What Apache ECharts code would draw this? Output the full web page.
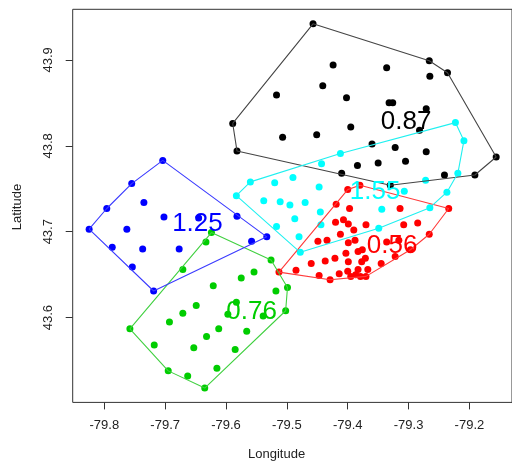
<!DOCTYPE html>
<html>
<head>
<meta charset="utf-8">
<script src="https://cdn.jsdelivr.net/npm/echarts@6/dist/echarts.min.js"></script>
<style>html,body{margin:0;padding:0;background:#fff;}#c{width:512px;height:463px;}</style>
</head>
<body>
<div id="c"></div>
<script>
// Cluster points [longitude, latitude]
const blackPts = [[-79.457,43.942],[-79.424,43.894],[-79.336,43.891],[-79.266,43.899],[-79.236,43.885],[-79.265,43.881],[-79.441,43.870],[-79.517,43.859],[-79.402,43.856],[-79.332,43.850],[-79.326,43.850],[-79.271,43.843],[-79.589,43.826],[-79.395,43.822],[-79.282,43.818],[-79.507,43.810],[-79.451,43.813],[-79.582,43.794],[-79.360,43.802],[-79.322,43.798],[-79.271,43.793],[-79.156,43.787],[-79.384,43.777],[-79.350,43.780],[-79.305,43.782],[-79.410,43.768],[-79.241,43.766],[-79.191,43.766],[-79.330,43.754]];
const bluePts = [[-79.704,43.783],[-79.755,43.756],[-79.735,43.734],[-79.796,43.727],[-79.702,43.717],[-79.645,43.716],[-79.582,43.718],[-79.825,43.703],[-79.763,43.703],[-79.787,43.682],[-79.737,43.680],[-79.677,43.680],[-79.558,43.689],[-79.533,43.694],[-79.754,43.659],[-79.719,43.631]];
const greenPts = [[-79.624,43.699],[-79.633,43.688],[-79.671,43.656],[-79.526,43.667],[-79.554,43.653],[-79.575,43.646],[-79.621,43.637],[-79.499,43.635],[-79.518,43.631],[-79.649,43.614],[-79.671,43.605],[-79.693,43.595],[-79.583,43.618],[-79.597,43.604],[-79.539,43.602],[-79.502,43.608],[-79.758,43.587],[-79.612,43.587],[-79.632,43.578],[-79.566,43.584],[-79.718,43.568],[-79.653,43.565],[-79.585,43.563],[-79.695,43.538],[-79.663,43.532],[-79.615,43.541],[-79.635,43.518]];
const cyanPts = [[-79.412,43.791],[-79.443,43.779],[-79.560,43.758],[-79.520,43.757],[-79.490,43.763],[-79.583,43.742],[-79.447,43.752],[-79.538,43.736],[-79.511,43.735],[-79.495,43.731],[-79.470,43.734],[-79.445,43.723],[-79.487,43.715],[-79.517,43.706],[-79.444,43.708],[-79.480,43.694],[-79.478,43.676],[-79.307,43.747],[-79.344,43.726],[-79.272,43.760],[-79.237,43.746],[-79.265,43.728],[-79.223,43.827],[-79.209,43.806],[-79.219,43.768],[-79.349,43.704]];
const redPts = [[-79.380,43.754],[-79.400,43.749],[-79.419,43.732],[-79.397,43.727],[-79.314,43.727],[-79.234,43.727],[-79.420,43.711],[-79.407,43.714],[-79.399,43.709],[-79.390,43.702],[-79.370,43.708],[-79.308,43.708],[-79.285,43.710],[-79.266,43.697],[-79.412,43.697],[-79.449,43.689],[-79.434,43.690],[-79.399,43.687],[-79.388,43.690],[-79.336,43.688],[-79.316,43.690],[-79.297,43.679],[-79.403,43.675],[-79.383,43.677],[-79.376,43.679],[-79.371,43.669],[-79.322,43.671],[-79.345,43.663],[-79.460,43.663],[-79.437,43.666],[-79.421,43.669],[-79.399,43.665],[-79.377,43.665],[-79.513,43.653],[-79.485,43.655],[-79.447,43.649],[-79.429,43.644],[-79.414,43.651],[-79.400,43.654],[-79.395,43.648],[-79.383,43.656],[-79.379,43.648],[-79.387,43.650],[-79.367,43.656],[-79.370,43.648]];

// Cluster annotations [longitude, latitude, text]
const clusterLabels = [
  [-79.304, 43.828, '0.87'],
  [-79.647, 43.709, '1.25'],
  [-79.355, 43.746, '1.55'],
  [-79.327, 43.683, '0.56'],
  [-79.558, 43.607, '0.76']
];
const xTicks = [-79.8, -79.7, -79.6, -79.5, -79.4, -79.3, -79.2];
const yTicks = [43.6, 43.7, 43.8, 43.9];

const clusters = [
  {pts: blackPts, color: '#000000', line: '#444444'},
  {pts: redPts, color: '#FF0000', line: '#FF3a3a'},
  {pts: greenPts, color: '#00CD00', line: '#40D040'},
  {pts: bluePts, color: '#0000FF', line: '#3a3aFF'},
  {pts: cyanPts, color: '#00FFFF', line: '#20F0F0'}
];
const labelColors = ['#000000', '#0000FF', '#00FFFF', '#FF0000', '#00CD00'];

function hull(points) {
  const p = points.slice().sort((a, b) => a[0] - b[0] || a[1] - b[1]);
  const cross = (o, a, b) => (a[0]-o[0])*(b[1]-o[1]) - (a[1]-o[1])*(b[0]-o[0]);
  const lower = [];
  for (const q of p) { while (lower.length >= 2 && cross(lower[lower.length-2], lower[lower.length-1], q) <= 0) lower.pop(); lower.push(q); }
  const upper = [];
  for (let i = p.length - 1; i >= 0; i--) { const q = p[i]; while (upper.length >= 2 && cross(upper[upper.length-2], upper[upper.length-1], q) <= 0) upper.pop(); upper.push(q); }
  upper.pop(); lower.pop();
  const h = lower.concat(upper);
  h.push(h[0]);
  return h;
}

const FONT = '"Liberation Sans", Arial, Helvetica, sans-serif';
const series = [];
clusters.forEach(c => {
  series.push({type: 'scatter', data: c.pts, symbolSize: 7, itemStyle: {color: c.color, opacity: 1}, silent: true, z: 3});
});
clusters.forEach(c => {
  series.push({type: 'line', data: hull(c.pts), symbol: 'none', lineStyle: {color: c.line, width: 1.1}, silent: true, z: 4});
});
clusterLabels.forEach((l, i) => {
  series.push({type: 'scatter', data: [l], symbolSize: 0, itemStyle: {color: labelColors[i], opacity: 1}, z: 6, silent: true,
    label: {show: true, position: 'inside', formatter: p => p.data[2], fontSize: 26, fontFamily: FONT,
      color: labelColors[i], opacity: 1, textBorderWidth: 0, textShadowBlur: 0}});
});

const chart = echarts.init(document.getElementById('c'), null, {renderer: 'canvas'});
chart.setOption({
  animation: false,
  backgroundColor: '#ffffff',
  grid: {left: 72.7, top: 9.3, width: 441.5, height: 393.1, show: true, borderColor: '#333333', borderWidth: 1, backgroundColor: 'transparent'},
  xAxis: {type: 'value', min: -79.852, max: -79.130,
    axisLine: {show: false}, splitLine: {show: false},
    axisTick: {show: true, length: 7, customValues: xTicks, lineStyle: {color: '#333333'}},
    axisLabel: {customValues: xTicks, formatter: v => v.toFixed(1), fontSize: 13, fontFamily: FONT, color: '#222222', margin: 17}},
  yAxis: {type: 'value', min: 43.5013, max: 43.9589,
    axisLine: {show: false}, splitLine: {show: false},
    axisTick: {show: true, length: 7, customValues: yTicks, lineStyle: {color: '#333333'}},
    axisLabel: {customValues: yTicks, formatter: v => v.toFixed(1), rotate: 90, fontSize: 13, fontFamily: FONT, color: '#222222', margin: 18}},
  graphic: [
    {type: 'text', left: 248, top: 448, style: {text: 'Longitude', fontSize: 13, fontFamily: FONT, fill: '#222222'}},
    {type: 'text', x: 17, y: 207, rotation: Math.PI / 2, style: {text: 'Latitude', fontSize: 13, fontFamily: FONT, fill: '#222222', align: 'center', verticalAlign: 'middle'}}
  ],
  series: series
});
</script>
</body>
</html>
